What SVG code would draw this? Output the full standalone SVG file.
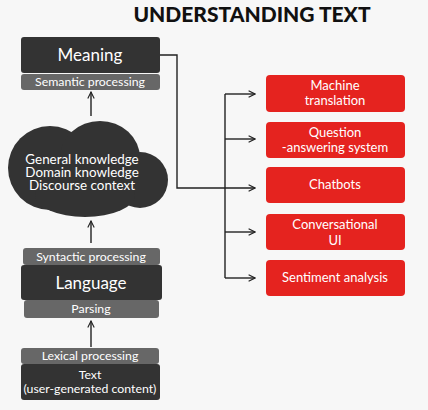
<svg xmlns="http://www.w3.org/2000/svg" width="428" height="410" viewBox="0 0 428 410">
<defs>
<style>
text{font-family:Lato,"Open Sans","Liberation Sans",sans-serif;fill:#fff;text-anchor:middle}
.dark{fill:#333}
.bar{fill:#676767}
.red{fill:#e5231f}
.big{font-size:17px}
.sm{font-size:12.3px}
.rt{font-size:13px}
.cl{font-size:13.4px}
.ln{stroke:#222;stroke-width:1.4;fill:none}
</style>
<marker id="ah" viewBox="0 0 10 10" refX="9" refY="5" markerWidth="8" markerHeight="8" orient="auto" markerUnits="userSpaceOnUse"><path d="M1,1 L9,5 L1,9" fill="none" stroke="#222" stroke-width="1.4"/></marker>
</defs>
<rect width="428" height="410" fill="#f7f7f7"/>
<text x="252" y="22" style="font-size:21px;font-weight:900;fill:#111">UNDERSTANDING TEXT</text>

<g id="meaning">
<rect class="dark" x="21" y="37" width="139" height="36" rx="3"/>
<text class="big" x="90" y="61">Meaning</text>
</g>
<g id="semantic">
<rect class="bar" x="21" y="74" width="139" height="16" rx="3"/>
<text class="sm" x="90" y="86">Semantic processing</text>
</g>
<g id="knowledge">
<g class="dark">
<ellipse cx="50" cy="168" rx="42" ry="42"/>
<ellipse cx="100" cy="158" rx="40" ry="37"/>
<circle cx="140" cy="180" r="28"/>
<ellipse cx="85" cy="195" rx="50" ry="22"/>
</g>
<text class="cl" x="82" y="164">General knowledge</text>
<text class="cl" x="82" y="176.8">Domain knowledge</text>
<text class="cl" x="82" y="189.6">Discourse context</text>
</g>
<g id="syntactic">
<rect class="bar" x="23" y="248" width="137" height="17" rx="3"/>
<text class="sm" x="91" y="261">Syntactic processing</text>
</g>
<g id="language">
<rect class="dark" x="21" y="265" width="141" height="35" rx="3"/>
<text class="big" x="91" y="289">Language</text>
</g>
<g id="parsing">
<rect class="bar" x="24" y="300" width="135" height="18" rx="3"/>
<text class="sm" x="91" y="313">Parsing</text>
</g>
<g id="lexical">
<rect class="bar" x="21" y="348" width="138" height="16" rx="3"/>
<text class="sm" x="90" y="360">Lexical processing</text>
</g>
<g id="text">
<rect class="dark" x="21" y="364" width="139" height="36" rx="3"/>
<text class="sm" x="90" y="379">Text</text>
<text class="sm" x="90" y="393">(user-generated content)</text>
</g>

<g id="machine-translation">
<rect class="red" x="266" y="75" width="139" height="37" rx="4"/>
<text class="rt" x="335" y="90">Machine</text>
<text class="rt" x="335" y="105">translation</text>
</g>
<g id="qa">
<rect class="red" x="266" y="122" width="139" height="36" rx="4"/>
<text class="rt" x="335" y="137">Question</text>
<text class="rt" x="335" y="152">-answering system</text>
</g>
<g id="chatbots">
<rect class="red" x="266" y="167" width="139" height="36" rx="4"/>
<text class="rt" x="335" y="189">Chatbots</text>
</g>
<g id="conv-ui">
<rect class="red" x="266" y="214" width="139" height="36" rx="4"/>
<text class="rt" x="335" y="229">Conversational</text>
<text class="rt" x="335" y="245">UI</text>
</g>
<g id="sentiment">
<rect class="red" x="266" y="260" width="139" height="36" rx="4"/>
<text class="rt" x="335" y="282">Sentiment analysis</text>
</g>

<g id="connectors">
<path class="ln" d="M91,116 V92" marker-end="url(#ah)"/>
<path class="ln" d="M91,243 V221" marker-end="url(#ah)"/>
<path class="ln" d="M91,347 V321" marker-end="url(#ah)"/>
<path class="ln" d="M160,55 H177 V188 H255" marker-end="url(#ah)"/>
<path class="ln" d="M225,94 V278"/>
<path class="ln" d="M225,94 H255" marker-end="url(#ah)"/>
<path class="ln" d="M225,139 H255" marker-end="url(#ah)"/>
<path class="ln" d="M225,232 H255" marker-end="url(#ah)"/>
<path class="ln" d="M225,278 H255" marker-end="url(#ah)"/>
</g>
</svg>
